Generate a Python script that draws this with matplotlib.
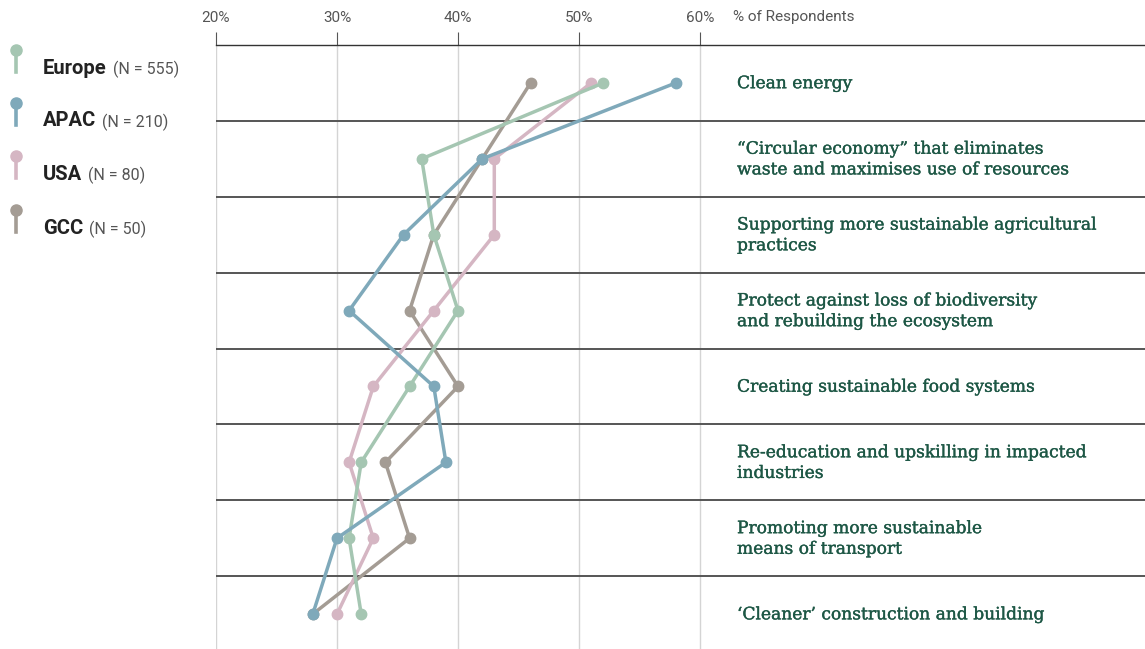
import matplotlib
matplotlib.use("Agg")
import matplotlib.pyplot as plt
import matplotlib.patheffects as pe
from matplotlib.lines import Line2D

# Survey topics (top to bottom)
topics = [
    "Clean energy",
    "\u201cCircular economy\u201d that eliminates\nwaste and maximises use of resources",
    "Supporting more sustainable agricultural\npractices",
    "Protect against loss of biodiversity\nand rebuilding the ecosystem",
    "Creating sustainable food systems",
    "Re-education and upskilling in impacted\nindustries",
    "Promoting more sustainable\nmeans of transport",
    "\u2018Cleaner\u2019 construction and building",
]

# % of respondents per region
europe = [52, 37, 38, 40, 36, 32, 31, 32]
apac = [58, 42, 35.5, 31, 38, 39, 30, 28]
usa = [51, 43, 43, 38, 33, 31, 33, 30]
gcc = [46, 42, 38, 36, 40, 34, 36, 28]

regions = ["Europe", "APAC", "USA", "GCC"]
sample_sizes = ["(N = 555)", "(N = 210)", "(N = 80)", "(N = 50)"]
tick_values = [20, 30, 40, 50, 60]
tick_labels = ["20%", "30%", "40%", "50%", "60%"]

colors = {
    "Europe": "#a5c6b2",
    "APAC": "#7fa9ba",
    "USA": "#d5b6c3",
    "GCC": "#a49c94",
}
series = {"Europe": europe, "APAC": apac, "USA": usa, "GCC": gcc}

W, H = 1145, 649
fig = plt.figure(figsize=(W / 100, H / 100), dpi=100)

# main plotting area: from the 20% gridline to the right edge
left_px, top_px = 216, 45
ax = fig.add_axes([left_px / W, 0, 1 - left_px / W, 1 - top_px / H])
px_per_pct = 12.1
xmax = 20 + (W - left_px) / px_per_pct
ax.set_xlim(20, xmax)
ax.set_ylim(7.46, -0.5)

for s in ["left", "right", "bottom"]:
    ax.spines[s].set_visible(False)
ax.spines["top"].set_color("#333333")
ax.spines["top"].set_linewidth(1.0)
ax.xaxis.tick_top()
ax.set_xticks(tick_values)
ax.set_xticklabels(tick_labels, fontsize=11, color="#555555", family="Roboto")
ax.tick_params(axis="x", length=9.5, width=0.8, color="#555555", pad=5)
ax.set_yticks([])

# vertical gridlines
for v in tick_values:
    ax.axvline(v, color="#d4d4d4", lw=1.0, zorder=0)

# row separators
for i in range(len(topics) - 1):
    ax.axhline(i + 0.5, color="#555555", lw=1.4, zorder=1)

ypos = list(range(len(topics)))
for name in ["GCC", "USA", "Europe", "APAC"]:
    ax.plot(series[name], ypos, color=colors[name], lw=2.5, marker="o",
            markersize=7.5, solid_capstyle="round", zorder=3)

label_x = 20 + (737 - left_px) / px_per_pct
label_color = "#1d5745"
for i, t in enumerate(topics):
    ax.text(label_x, i + 0.01, t, va="center", ha="left", fontsize=12.3,
            family="DejaVu Serif", color=label_color, linespacing=1.28,
            path_effects=[pe.withStroke(linewidth=0.25, foreground=label_color)])

# axis caption beside the tick labels
fig.text(733 / W, 1 - 17 / H, "% of Respondents", fontsize=11,
         color="#555555", family="Roboto", va="center", ha="left")

# legend panel on the left
lax = fig.add_axes([0, 0, left_px / W, 1])
lax.set_xlim(0, left_px)
lax.set_ylim(H, 0)
lax.axis("off")
row_y = [68, 121, 174, 228]
for name, n, y in zip(regions, sample_sizes, row_y):
    lax.add_line(Line2D([16, 16], [y - 18, y + 4], color=colors[name], lw=2.6))
    lax.plot([16], [y - 18], "o", color=colors[name], markersize=8)
    t = lax.text(43, y, name, fontsize=14.5, fontweight="bold", family="Roboto",
                 color="#222222", va="center", ha="left")
    fig.canvas.draw()
    bb = t.get_window_extent()
    inv = lax.transData.inverted()
    x_end = inv.transform((bb.x1, bb.y0))[0]
    lax.text(x_end + 6, y + 1, n, fontsize=11.5, family="Roboto",
             color="#555555", va="center", ha="left")

fig.savefig("out.png", dpi=100)
